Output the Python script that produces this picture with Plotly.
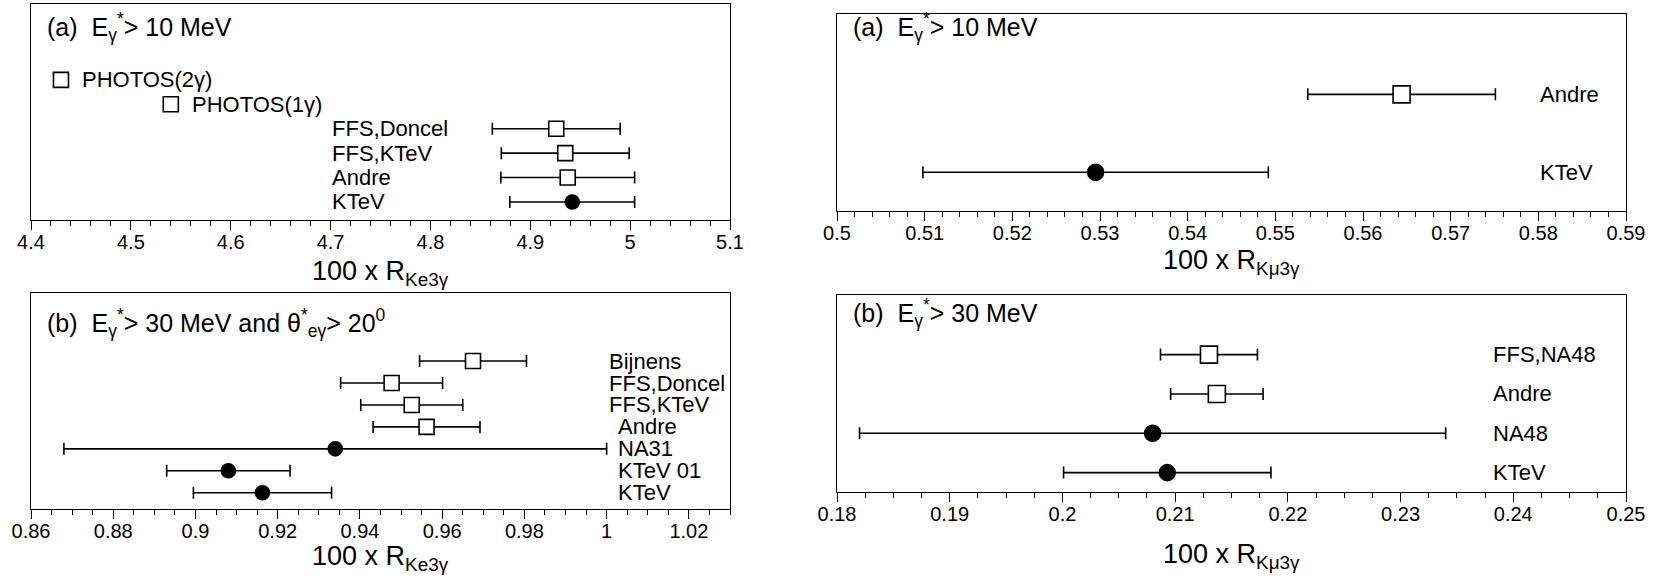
import plotly.graph_objects as go

W, H = 1669, 576
FONT = "Liberation Sans, Arial, Helvetica, sans-serif"

# ---------------- data ----------------
# Panel (a) left: 100 x R_Ke3g, E* > 10 MeV   (rows listed bottom -> top)
ke3a_names = ["KTeV", "Andre", "FFS,KTeV", "FFS,Doncel", "PHOTOS(1γ)", "PHOTOS(2γ)"]
ke3a_vals = [4.942, 4.9375, 4.935, 4.926, 4.540, 4.430]
ke3a_err = [0.0625, 0.067, 0.064, 0.064, None, None]
ke3a_exp = [True, False, False, False, False, False]

# Panel (b) left: 100 x R_Ke3g, E* > 30 MeV and theta* > 20 deg
ke3b_names = ["KTeV", "KTeV 01", "NA31", "Andre", "FFS,KTeV", "FFS,Doncel", "Bijnens"]
ke3b_vals = [0.9163, 0.908, 0.934, 0.9562, 0.9526, 0.9477, 0.9675]
ke3b_err = [0.0168, 0.015, 0.066, 0.013, 0.0124, 0.0124, 0.013]
ke3b_exp = [True, True, True, False, False, False, False]

# Panel (a) right: 100 x R_Kmu3g, E* > 10 MeV
km3a_names = ["KTeV", "Andre"]
km3a_vals = [0.5295, 0.5644]
km3a_err = [0.0197, 0.0107]
km3a_exp = [True, False]

# Panel (b) right: 100 x R_Kmu3g, E* > 30 MeV
km3b_names = ["KTeV", "NA48", "Andre", "FFS,NA48"]
km3b_vals = [0.2093, 0.208, 0.2137, 0.2130]
km3b_err = [0.0092, 0.026, 0.0041, 0.0043]
km3b_exp = [True, True, False, False]

# tick labels
ke3a_ticks = [4.4, 4.5, 4.6, 4.7, 4.8, 4.9, 5.0, 5.1]
ke3a_ticktext = ["4.4", "4.5", "4.6", "4.7", "4.8", "4.9", "5", "5.1"]
ke3b_ticks = [0.86, 0.88, 0.90, 0.92, 0.94, 0.96, 0.98, 1.00, 1.02]
ke3b_ticktext = ["0.86", "0.88", "0.9", "0.92", "0.94", "0.96", "0.98", "1", "1.02"]
km3a_ticks = [0.50, 0.51, 0.52, 0.53, 0.54, 0.55, 0.56, 0.57, 0.58, 0.59]
km3a_ticktext = ["0.5", "0.51", "0.52", "0.53", "0.54", "0.55", "0.56", "0.57", "0.58", "0.59"]
km3b_ticks = [0.18, 0.19, 0.20, 0.21, 0.22, 0.23, 0.24, 0.25]
km3b_ticktext = ["0.18", "0.19", "0.2", "0.21", "0.22", "0.23", "0.24", "0.25"]

# ---------------- figure ----------------
fig = go.Figure()


def px_x(p):
    return p / W


def px_y(p):
    return 1 - p / H


panels = [
    dict(names=ke3a_names, vals=ke3a_vals, err=ke3a_err, exp=ke3a_exp, ax="",
         frame=(31, 4, 730, 220), xr=[4.4, 5.1], yr=[-0.74, 8.11], minor=0.02,
         ticks=ke3a_ticks, ticktext=ke3a_ticktext,
         title="100 x R<sub>Ke3γ</sub>", ty=273,
         header="(a)\u00a0\u00a0E<sub>γ</sub><sup>*</sup>> 10 MeV", hy=27,
         sq=15, ci=14, labx=[330, 330, 330, 330, None, None]),
    dict(names=ke3b_names, vals=ke3b_vals, err=ke3b_err, exp=ke3b_exp, ax="2",
         frame=(31, 293, 730, 509), xr=[0.86, 1.03], yr=[-0.74, 9.1], minor=0.005,
         ticks=ke3b_ticks, ticktext=ke3b_ticktext,
         title="100 x R<sub>Ke3γ</sub>", ty=558,
         header="(b)\u00a0\u00a0E<sub>γ</sub><sup>*</sup>> 30 MeV and θ<sup>*</sup><sub>eγ</sub>> 20<sup>0</sup>", hy=323,
         sq=15, ci=14, labx=[616, 616, 616, 616, 607, 607, 607]),
    dict(names=km3a_names, vals=km3a_vals, err=km3a_err, exp=km3a_exp, ax="3",
         frame=(837, 14, 1626, 211), xr=[0.5, 0.59], yr=[-0.496, 2.03], minor=0.002,
         ticks=km3a_ticks, ticktext=km3a_ticktext,
         title="100 x R<sub>Kμ3γ</sub>", ty=262,
         header="(a)\u00a0\u00a0E<sub>γ</sub><sup>*</sup>> 10 MeV", hy=27,
         sq=17, ci=16, labx=[1538, 1538]),
    dict(names=km3b_names, vals=km3b_vals, err=km3b_err, exp=km3b_exp, ax="4",
         frame=(837, 295, 1626, 492), xr=[0.18, 0.25], yr=[-0.493, 4.516], minor=0.0025,
         ticks=km3b_ticks, ticktext=km3b_ticktext,
         title="100 x R<sub>Kμ3γ</sub>", ty=556,
         header="(b)\u00a0\u00a0E<sub>γ</sub><sup>*</sup>> 30 MeV", hy=313,
         sq=17, ci=16, labx=[1491, 1491, 1491, 1491]),
]

annotations = []
for p in panels:
    ax = p["ax"]
    xa = "x" + ax
    ya = "y" + ax
    n = len(p["vals"])
    rows = list(range(n))
    for is_exp in (False, True):
        idx = [i for i in range(n) if p["exp"][i] == is_exp]
        if not idx:
            continue
        errs = [p["err"][i] for i in idx]
        fig.add_trace(go.Scatter(
            x=[p["vals"][i] for i in idx],
            y=[rows[i] for i in idx],
            mode="markers",
            xaxis=xa, yaxis=ya,
            showlegend=False,
            error_x=dict(type="data", array=errs, symmetric=True,
                         color="black", thickness=1.6, width=6),
            marker=dict(
                symbol="circle" if is_exp else "square",
                size=p["ci"] if is_exp else p["sq"],
                color="black" if is_exp else "white",
                line=dict(color="black", width=1.6),
            ),
        ))
    l, t, r, b = p["frame"]
    key = "xaxis" + ax
    ykey = "yaxis" + ax
    fig.layout[key] = dict(
        domain=[px_x(l), px_x(r)], anchor=ya, range=p["xr"], automargin=False,
        tickmode="array", tickvals=p["ticks"], ticktext=p["ticktext"],
        ticks="outside", ticklen=9, tickwidth=1, tickcolor="black",
        ticklabelstandoff=-5,
        minor=dict(dtick=p["minor"], ticks="outside", ticklen=5, tickwidth=1, tickcolor="black"),
        showline=True, linecolor="black", linewidth=1, mirror=True,
        showgrid=False, zeroline=False,
        tickfont=dict(family=FONT, size=20, color="black"),
    )
    fig.layout[ykey] = dict(
        domain=[px_y(b), px_y(t)], anchor=xa, range=p["yr"], automargin=False,
        showline=True, linecolor="black", linewidth=1, mirror=True,
        showticklabels=False, ticks="", showgrid=False, zeroline=False,
    )
    # axis title
    annotations.append(dict(
        text=p["title"], xref="paper", yref="paper",
        x=px_x((l + r) / 2), y=px_y(p["ty"]), xanchor="center", yanchor="middle",
        showarrow=False, font=dict(family=FONT, size=27, color="black"),
    ))
    # header text
    annotations.append(dict(
        text=p["header"], xref="paper", yref="paper",
        x=px_x(l + 14), y=px_y(p["hy"]), xanchor="left", yanchor="middle",
        showarrow=False, font=dict(family=FONT, size=25, color="black"),
    ))
    # row labels
    for i in range(n):
        if p["labx"][i] is None:
            annotations.append(dict(
                text=p["names"][i], xref=xa, yref=ya,
                x=p["vals"][i], y=rows[i], xanchor="left", yanchor="middle", xshift=19,
                showarrow=False, font=dict(family=FONT, size=22, color="black"),
            ))
        else:
            annotations.append(dict(
                text=p["names"][i], xref="paper", yref=ya,
                x=px_x(p["labx"][i]), y=rows[i], xanchor="left", yanchor="middle",
                showarrow=False, font=dict(family=FONT, size=22, color="black"),
            ))

fig.update_layout(
    width=W, height=H,
    margin=dict(l=0, r=0, t=0, b=0),
    paper_bgcolor="white", plot_bgcolor="white",
    annotations=annotations,
    font=dict(family=FONT, color="black"),
)

fig.write_html("out.html", config={"displayModeBar": False},
               post_script="document.body.style.margin='0';")
